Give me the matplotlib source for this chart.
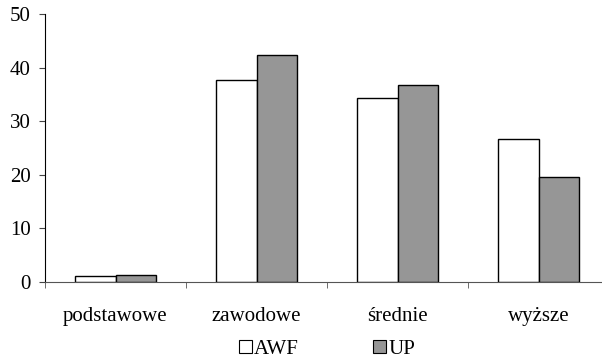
import numpy as np
import matplotlib
matplotlib.use("Agg")
import matplotlib.pyplot as plt
from matplotlib.patches import Patch
from matplotlib.ticker import FixedLocator, NullFormatter

plt.rcParams["font.family"] = ["Liberation Serif", "DejaVu Serif"]

categories = ["podstawowe", "zawodowe", "średnie", "wyższe"]
awf = [1.2, 37.7, 34.4, 26.6]
up = [1.3, 42.4, 36.7, 19.6]
series_names = ["AWF", "UP"]

fig = plt.figure(figsize=(6.02, 3.61), dpi=100)
ax = fig.add_axes([45 / 602, 79 / 361, 564 / 602, 268 / 361])

x = np.arange(len(categories))
w = 0.287
ax.bar(x - w / 2, awf, w, color="white", edgecolor="black", linewidth=1.0)
ax.bar(x + w / 2, up, w, color="#969696", edgecolor="black", linewidth=1.0)

ax.set_xlim(-0.5, len(categories) - 0.5)
ax.set_ylim(0, 50)
ax.set_yticks([0, 10, 20, 30, 40, 50])
ax.set_xticks(x)
ax.set_xticklabels(categories)
ax.xaxis.set_minor_locator(FixedLocator(np.arange(len(categories) + 1) - 0.5))
ax.xaxis.set_minor_formatter(NullFormatter())

ax.tick_params(axis="x", which="major", length=0, pad=18, labelsize=15)
ax.tick_params(axis="x", which="minor", length=4.5, direction="out", color="#555555")
ax.tick_params(axis="y", length=4.3, pad=6, labelsize=15, color="#444444")

for s in ["top", "right"]:
    ax.spines[s].set_visible(False)
ax.spines["left"].set_color("black")
ax.spines["bottom"].set_color("#555555")

handles = [Patch(facecolor="white", edgecolor="black", linewidth=0.8),
           Patch(facecolor="#969696", edgecolor="black", linewidth=0.8)]
fig.legend(handles, series_names, loc="center", bbox_to_anchor=(327 / 602, 1 - 349 / 361),
           ncol=2, frameon=False, fontsize=15, handlelength=0.6, handleheight=0.6,
           handletextpad=0.1, columnspacing=3.6, borderpad=0)

fig.savefig("out.png", dpi=100)
